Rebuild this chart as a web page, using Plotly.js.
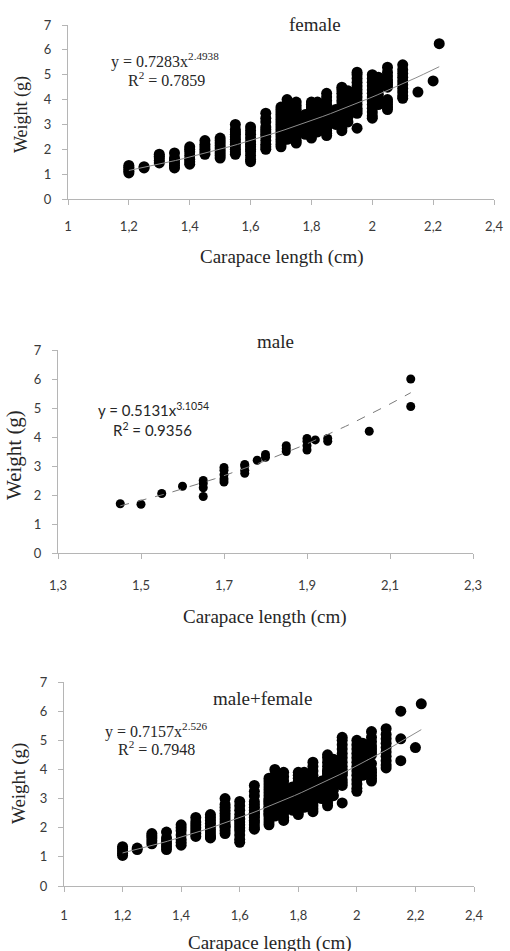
<!DOCTYPE html>
<html>
<head>
<meta charset="utf-8">
<script src="https://cdn.plot.ly/plotly-3.0.1.min.js"></script>
<style>html,body{margin:0;padding:0;background:#fff;}#chart{width:510px;height:951px;}</style>
</head>
<body>
<div id="chart"></div>
<script>
// ---------- data ----------
const femaleLength = [1.2, 1.25, 1.3, 1.35, 1.4, 1.45, 1.5, 1.55, 1.6, 1.65, 1.7, 1.72, 1.75, 1.78, 1.8, 1.82, 1.85, 1.88, 1.9, 1.92, 1.95, 2.0, 2.02, 2.05, 2.1, 2.15, 2.2, 2.22];
const femaleWeight = [
  [1.05, 1.12, 1.2, 1.28, 1.35],
  [1.25, 1.3],
  [1.45, 1.55, 1.65, 1.72, 1.8],
  [1.25, 1.35, 1.45, 1.55, 1.65, 1.85],
  [1.4, 1.5, 1.6, 1.75, 1.9, 2.0, 2.1],
  [1.8, 1.9, 2.0, 2.1, 2.2, 2.35],
  [1.65, 1.75, 1.85, 1.95, 2.05, 2.15, 2.25, 2.35, 2.45],
  [1.8, 1.9, 2.0, 2.1, 2.2, 2.3, 2.4, 2.5, 2.6, 2.7, 2.8, 3.0],
  [1.5, 1.6, 1.75, 1.9, 2.0, 2.1, 2.2, 2.3, 2.45, 2.6, 2.75, 2.9],
  [2.0, 2.1, 2.2, 2.35, 2.5, 2.6, 2.7, 2.8, 2.9, 3.1, 3.25, 3.45],
  [2.1, 2.2, 2.3, 2.4, 2.5, 2.6, 2.7, 2.8, 2.9, 3.0, 3.1, 3.2, 3.3, 3.4, 3.5, 3.6, 3.7],
  [2.4, 2.6, 2.8, 3.0, 3.2, 3.4, 3.6, 3.8, 4.0],
  [2.25, 2.35, 2.5, 2.6, 2.7, 2.8, 2.9, 3.0, 3.1, 3.2, 3.3, 3.45, 3.6, 3.75, 3.9],
  [2.6, 2.8, 3.0, 3.2, 3.4],
  [2.45, 2.55, 2.65, 2.75, 2.85, 2.95, 3.05, 3.15, 3.25, 3.35, 3.5, 3.6, 3.7, 3.8, 3.9],
  [2.7, 2.9, 3.1, 3.3, 3.5, 3.7, 3.9],
  [2.55, 2.65, 2.75, 2.85, 2.95, 3.05, 3.2, 3.35, 3.5, 3.65, 3.8, 3.95, 4.1, 4.25],
  [3.0, 3.2, 3.4, 3.6],
  [2.75, 2.85, 2.95, 3.05, 3.2, 3.35, 3.5, 3.65, 3.8, 3.95, 4.1, 4.25, 4.4, 4.5],
  [3.1, 3.3, 3.5, 3.7, 3.9, 4.1, 4.35],
  [2.85, 3.45, 3.55, 3.65, 3.8, 3.95, 4.1, 4.25, 4.4, 4.55, 4.7, 4.85, 5.0, 5.1],
  [3.25, 3.35, 3.5, 3.65, 3.8, 3.95, 4.1, 4.25, 4.4, 4.55, 4.7, 4.85, 5.0],
  [3.8, 4.0, 4.2, 4.4, 4.6, 4.8, 4.9],
  [3.6, 3.7, 3.8, 3.9, 4.0, 4.5, 4.6, 4.7, 4.8, 4.95, 5.1, 5.3],
  [4.05, 4.15, 4.3, 4.45, 4.6, 4.75, 4.9, 5.05, 5.2, 5.4],
  [4.3],
  [4.75],
  [6.25]
];
const maleLength = [1.45, 1.5, 1.55, 1.6, 1.65, 1.7, 1.75, 1.78, 1.8, 1.85, 1.9, 1.92, 1.95, 2.05, 2.15];
const maleWeight = [
  [1.7],
  [1.68],
  [2.05],
  [2.3],
  [1.95, 2.25, 2.4, 2.5],
  [2.45, 2.55, 2.7, 2.85, 2.95],
  [2.75, 2.85, 3.0, 3.05],
  [3.2],
  [3.3, 3.4],
  [3.5, 3.6, 3.7],
  [3.55, 3.7, 3.85, 3.95],
  [3.9],
  [3.85, 3.95],
  [4.2],
  [5.05, 6.0]
];
// power trendlines y = a * x^b as printed on the chart
const femaleFit = {a: 0.7283, b: 2.4938, r2: 0.7859, from: 1.2, to: 2.22};
const maleFit = {a: 0.5131, b: 3.1054, r2: 0.9356, from: 1.45, to: 2.15};
const bothFit = {a: 0.7157, b: 2.526, r2: 0.7948, from: 1.2, to: 2.22};
const panelTitles = ["female", "male", "male+female"];

// ---------- helpers ----------
function flatten(lengths, weights) {
  const xs = [], ys = [];
  lengths.forEach((L, i) => weights[i].forEach(w => { xs.push(L); ys.push(w); }));
  return {x: xs, y: ys};
}
function curve(fit) {
  const xs = [], ys = [];
  const n = 40;
  for (let i = 0; i <= n; i++) {
    const x = fit.from + (fit.to - fit.from) * i / n;
    xs.push(x); ys.push(fit.a * Math.pow(x, fit.b));
  }
  return {x: xs, y: ys};
}
const W = 510, H = 951;
const px = v => v / W;
const py = v => 1 - v / H;

const fem = flatten(femaleLength, femaleWeight);
const mal = flatten(maleLength, maleWeight);
const both = {x: fem.x.concat(mal.x), y: fem.y.concat(mal.y)};

const fc = curve(femaleFit), mc = curve(maleFit), bc = curve(bothFit);

const traces = [
  {x: fem.x, y: fem.y, xaxis: 'x', yaxis: 'y', mode: 'markers', type: 'scatter',
   marker: {color: '#000', size: 11}},
  {x: fc.x, y: fc.y, xaxis: 'x', yaxis: 'y', mode: 'lines', type: 'scatter',
   line: {color: '#8c8c8c', width: 1}},
  {x: mal.x, y: mal.y, xaxis: 'x2', yaxis: 'y2', mode: 'markers', type: 'scatter',
   marker: {color: '#000', size: 9}},
  {x: mc.x, y: mc.y, xaxis: 'x2', yaxis: 'y2', mode: 'lines', type: 'scatter',
   line: {color: '#7a7a7a', width: 1, dash: 'dash'}},
  {x: both.x, y: both.y, xaxis: 'x3', yaxis: 'y3', mode: 'markers', type: 'scatter',
   marker: {color: '#000', size: 11}},
  {x: bc.x, y: bc.y, xaxis: 'x3', yaxis: 'y3', mode: 'lines', type: 'scatter',
   line: {color: '#8c8c8c', width: 1}}
];

const tickFont = {family: 'Lato, "Liberation Sans", sans-serif', size: 13, color: '#3a3a3a'};
const lineCol = '#b5b5b5';
function xax(domain, range, tick0, anchor, standoff) {
  return {domain: domain, range: range, tick0: tick0, dtick: 0.2, anchor: anchor,
    showline: true, linecolor: lineCol, linewidth: 1, ticks: 'outside', ticklen: 5,
    tickcolor: lineCol, showgrid: false, zeroline: false, tickfont: tickFont,
    ticklabelstandoff: standoff, fixedrange: true};
}
function yax(domain, anchor, standoff) {
  return {domain: domain, range: [0, 7], dtick: 1, anchor: anchor,
    showline: true, linecolor: lineCol, linewidth: 1, ticks: 'outside', ticklen: 5,
    tickcolor: lineCol, showgrid: false, zeroline: false, tickfont: tickFont,
    ticklabelstandoff: standoff, fixedrange: true};
}

const serif = '"Liberation Serif", "Times New Roman", serif';
const sans = 'Lato, "Liberation Sans", sans-serif';
function ann(text, x, y, size, family, extra) {
  return Object.assign({text: text, x: px(x), y: py(y), xref: 'paper', yref: 'paper',
    showarrow: false, xanchor: 'center', yanchor: 'middle',
    font: {family: family, size: size, color: '#262626'}}, extra || {});
}

const annotations = [
  // panel 1
  ann(panelTitles[0], 315, 25, 19, serif),
  ann('Weight (g)', 21, 115, 18, serif, {textangle: -90}),
  ann('Carapace length (cm)', 282, 257, 19, serif),
  ann('y = ' + femaleFit.a + 'x<sup>' + femaleFit.b + '</sup>', 165, 60, 16, serif),
  ann('R<sup>2</sup> = ' + femaleFit.r2, 166, 79, 16, serif),
  // panel 2
  ann(panelTitles[1], 275, 341, 19, serif),
  ann('Weight (g)', 14, 455, 21, serif, {textangle: -90}),
  ann('Carapace length (cm)', 265, 617, 19, serif),
  ann('y = ' + maleFit.a + 'x<sup>' + maleFit.b + '</sup>', 153, 409, 15, sans),
  ann('R<sup>2</sup> = ' + maleFit.r2, 152, 429, 15, sans),
  // panel 3
  ann(panelTitles[2], 262, 698, 19, serif),
  ann('Weight (g)', 19, 784, 19, serif, {textangle: -90}),
  ann('Carapace length (cm)', 270, 943, 19, serif),
  ann('y = ' + bothFit.a + 'x<sup>' + bothFit.b + '</sup>', 156, 730, 16, serif),
  ann('R<sup>2</sup> = ' + bothFit.r2, 156, 748, 16, serif)
];

const layout = {
  width: W, height: H,
  margin: {l: 0, r: 0, t: 0, b: 0},
  paper_bgcolor: '#fff', plot_bgcolor: '#fff',
  showlegend: false,
  separators: ', ',
  xaxis: xax([px(68), px(494)], [1, 2.4], 1, 'y', 10),
  yaxis: yax([py(199), py(25)], 'x', 8),
  xaxis2: xax([px(58), px(473)], [1.3, 2.3], 1.3, 'y2', 15),
  yaxis2: yax([py(553), py(350)], 'x2', 8),
  xaxis3: xax([px(64), px(474)], [1, 2.4], 1, 'y3', 12),
  yaxis3: yax([py(886), py(682)], 'x3', 8),
  annotations: annotations
};

Plotly.newPlot('chart', traces, layout, {staticPlot: true, displayModeBar: false});
</script>
</body>
</html>
